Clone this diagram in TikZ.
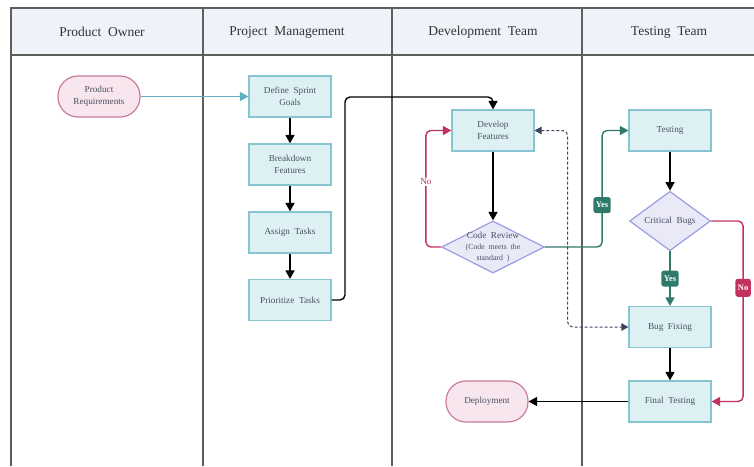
\documentclass[tikz,border=0pt]{standalone}
\usepackage{fontspec}
\setmainfont{Liberation Serif}
\newfontfamily\headfont{Liberation Serif}[WordSpace=3.5]
\newfontfamily\boxfont{Liberation Serif}[WordSpace=2]
\usepackage{xcolor}
\usetikzlibrary{shapes.geometric,arrows.meta,positioning}

\definecolor{laneline}{HTML}{5E5E5E}
\definecolor{headfill}{HTML}{EFF3F9}
\definecolor{taskfill}{HTML}{DDF1F4}
\definecolor{taskline}{HTML}{86C5D0}
\definecolor{askfill}{HTML}{E9E9F8}
\definecolor{askline}{HTML}{9C9CE0}
\definecolor{endfill}{HTML}{F8E6EE}
\definecolor{endline}{HTML}{C97A9E}
\definecolor{cyanflow}{HTML}{62AFC4}
\definecolor{yesflow}{HTML}{2F7A6A}
\definecolor{noflow}{HTML}{C3325F}
\definecolor{backflow}{HTML}{3A4560}
\definecolor{labeltext}{HTML}{4A5060}

\tikzset{
    lane/.style={laneline, line width=1.3pt},
    headtext/.style={font=\headfont\fontsize{13.5}{16}\selectfont, text=black!80},
    boxtext/.style={font=\boxfont\fontsize{9.2}{11.5}\selectfont, text=labeltext, align=center},
    task/.style={boxtext, rectangle, draw=taskline, fill=taskfill, line width=1.2pt, minimum width=82pt, minimum height=41pt, inner sep=2pt},
    ask/.style={boxtext, diamond, draw=askline, fill=askfill, line width=1.2pt, inner sep=0pt},
    terminal/.style={boxtext, rectangle, rounded corners=20pt, draw=endline, fill=endfill, line width=1.2pt, minimum width=82pt, minimum height=41pt},
    flow/.style={line width=1.4pt, rounded corners=5pt, -{Triangle[length=8.5pt,width=9pt]}},
    twoway/.style={line width=1pt, rounded corners=5pt, densely dashed, {Triangle[length=7pt,width=7.5pt]}-{Triangle[length=7pt,width=7.5pt]}},
    tag/.style={font=\fontsize{8.5}{10}\selectfont\bfseries, text=white, rounded corners=2.5pt, inner sep=2.5pt, minimum height=16pt},
}

\begin{document}
\begin{tikzpicture}[x=1pt,y=-1pt]
    \useasboundingbox (0,0) rectangle (754,466);

    \fill[headfill] (11,8) rectangle (754,55);
    \draw[lane] (754,8) -- (11,8) -- (11,466);
    \draw[lane] (11,55) -- (754,55);
    \foreach \x in {203,392,582}
        \draw[lane] (\x,8) -- (\x,466);

    \node[headtext] (ownerhead) at (102,32) {Product Owner};
    \node[headtext] (pmhead) at (287,32) {Project Management};
    \node[headtext] (devhead) at (483,32) {Development Team};
    \node[headtext] (testhead) at (669,32) {Testing Team};

    \node[terminal] (req) at (99,96.5) {Product\\Requirements};
    \node[task] (goals) at (290,96.5) {Define Sprint\\Goals};
    \node[task] (breakdown) at (290,164.5) {Breakdown\\Features};
    \node[task] (assign) at (290,232.5) {Assign Tasks};
    \node[task] (prio) at (290,300) {Prioritize Tasks};

    \node[task] (develop) at (493,130.5) {Develop\\Features};
    \node[ask, minimum width=103pt, minimum height=52pt,
        label={[boxtext]center:\begin{tabular}{@{}c@{}}Code Review\\[-1pt]
        \fontsize{7.8}{9}\selectfont(Code meets the\\[-0.5pt]
        \fontsize{7.8}{9}\selectfont standard )\end{tabular}}] (review) at (493,247) {};
    \node[terminal] (deploy) at (487,401.5) {Deployment};

    \node[task] (testing) at (670,130.5) {Testing};
    \node[ask, minimum width=81pt, minimum height=53pt] (bugs) at (670,221) {Critical Bugs};
    \node[task] (bugfix) at (670,327) {Bug Fixing};
    \node[task] (final) at (670,401.5) {Final Testing};

    \coordinate (turn) at (345,97);

    \draw[flow, cyanflow] (req) -- (goals);
    \draw[flow] (goals) -- (breakdown);
    \draw[flow] (breakdown) -- (assign);
    \draw[flow] (assign) -- (prio);
    \draw[flow] (prio.east) -| (turn) -| (develop.north);
    \draw[flow] (develop) -- (review);
    \draw[flow, noflow] (review.west) -- ++(-15,0) |- node[pos=0.28, boxtext, text=noflow, fill=white, inner sep=1pt] {No} (develop.west);
    \draw[flow, yesflow] (review.east) -- ++(57,0) |- node[pos=0.18, tag, fill=yesflow] {Yes} (testing.west);
    \draw[twoway, backflow] (develop.east) -- ++(33,0) |- (bugfix.west);
    \draw[flow] (testing) -- (bugs);
    \draw[flow, yesflow] (bugs) -- node[tag, fill=yesflow] {Yes} (bugfix);
    \draw[flow, noflow] (bugs.east) -- ++(32,0) |- node[pos=0.185, tag, fill=noflow, minimum height=18pt] {No} (final.east);
    \draw[flow] (bugfix) -- (final);
    \draw[flow] (final) -- (deploy);
\end{tikzpicture}
\end{document}
